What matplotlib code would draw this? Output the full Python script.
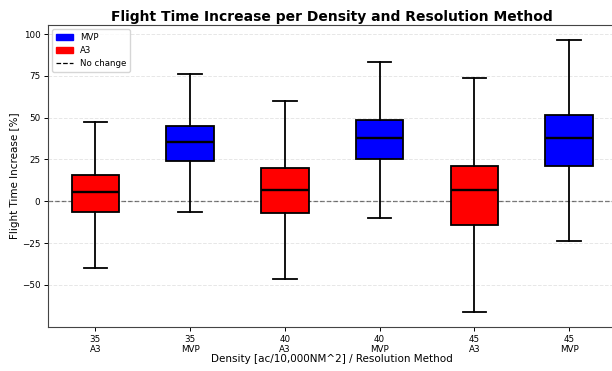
import matplotlib
matplotlib.use("Agg")
import matplotlib.pyplot as plt
import matplotlib.patches as mpatches
import matplotlib.lines as mlines

densities = [35, 35, 40, 40, 45, 45]
methods = ["A3", "MVP", "A3", "MVP", "A3", "MVP"]

# whisker low, q1, median, q3, whisker high  (flight time increase, %)
whislo = [-39.9, -6.7, -46.4, -10.0, -66.1, -23.9]
q1 = [-6.7, 24.3, -7.3, 25.1, -14.0, 21.1]
med = [5.7, 35.2, 6.7, 37.7, 6.5, 37.7]
q3 = [15.6, 45.0, 19.6, 48.8, 21.1, 51.5]
whishi = [47.2, 76.2, 59.7, 83.5, 73.9, 96.6]

colors = {"MVP": "blue", "A3": "red"}

stats = []
for i in range(len(densities)):
    stats.append({
        "label": f"{densities[i]}\n{methods[i]}",
        "whislo": whislo[i], "q1": q1[i], "med": med[i],
        "q3": q3[i], "whishi": whishi[i], "fliers": [],
    })

fig = plt.figure(figsize=(6.12, 3.71), dpi=100)
ax = fig.add_axes([0.0784, 0.1186, 0.9289, 0.814])

bp = ax.bxp(stats, positions=range(1, 7), widths=0.5, patch_artist=True,
            showfliers=False,
            boxprops=dict(edgecolor="black", linewidth=1.3),
            medianprops=dict(color="black", linewidth=1.7),
            whiskerprops=dict(color="black", linewidth=1.3),
            capprops=dict(color="black", linewidth=1.3))
for patch, m in zip(bp["boxes"], methods):
    patch.set_facecolor(colors[m])

ax.axhline(0, color="black", linestyle="--", linewidth=0.9, alpha=0.6, zorder=0)
ax.yaxis.grid(True, linestyle="--", alpha=0.3, linewidth=0.7)
ax.set_axisbelow(True)
ax.set_xlim(0.5, 6.5)
ax.set_ylim(-75.2, 105.4)
ax.set_yticks([-50, -25, 0, 25, 50, 75, 100])
ax.set_xticks(range(1, 7))
ax.set_xticklabels([s["label"] for s in stats], linespacing=1.2)
ax.tick_params(labelsize=6.3, width=0.7, length=3, pad=2.5)
for s in ax.spines.values():
    s.set_linewidth(0.8)
    s.set_color("#444444")

ax.set_title("Flight Time Increase per Density and Resolution Method",
             fontsize=10, fontweight="bold", pad=3)
ax.set_xlabel("Density [ac/10,000NM^2] / Resolution Method", fontsize=7.5)
ax.set_ylabel("Flight Time Increase [%]", fontsize=7.5)
ax.xaxis.set_label_coords(0.5, -0.09)
ax.yaxis.set_label_coords(-0.05, 0.5)

handles = [mpatches.Patch(color="blue", label="MVP"),
           mpatches.Patch(color="red", label="A3"),
           mlines.Line2D([], [], color="black", linestyle="--", linewidth=0.9, label="No change")]
ax.legend(handles=handles, loc="upper left", fontsize=6.2)

fig.savefig("out.png", dpi=100)
